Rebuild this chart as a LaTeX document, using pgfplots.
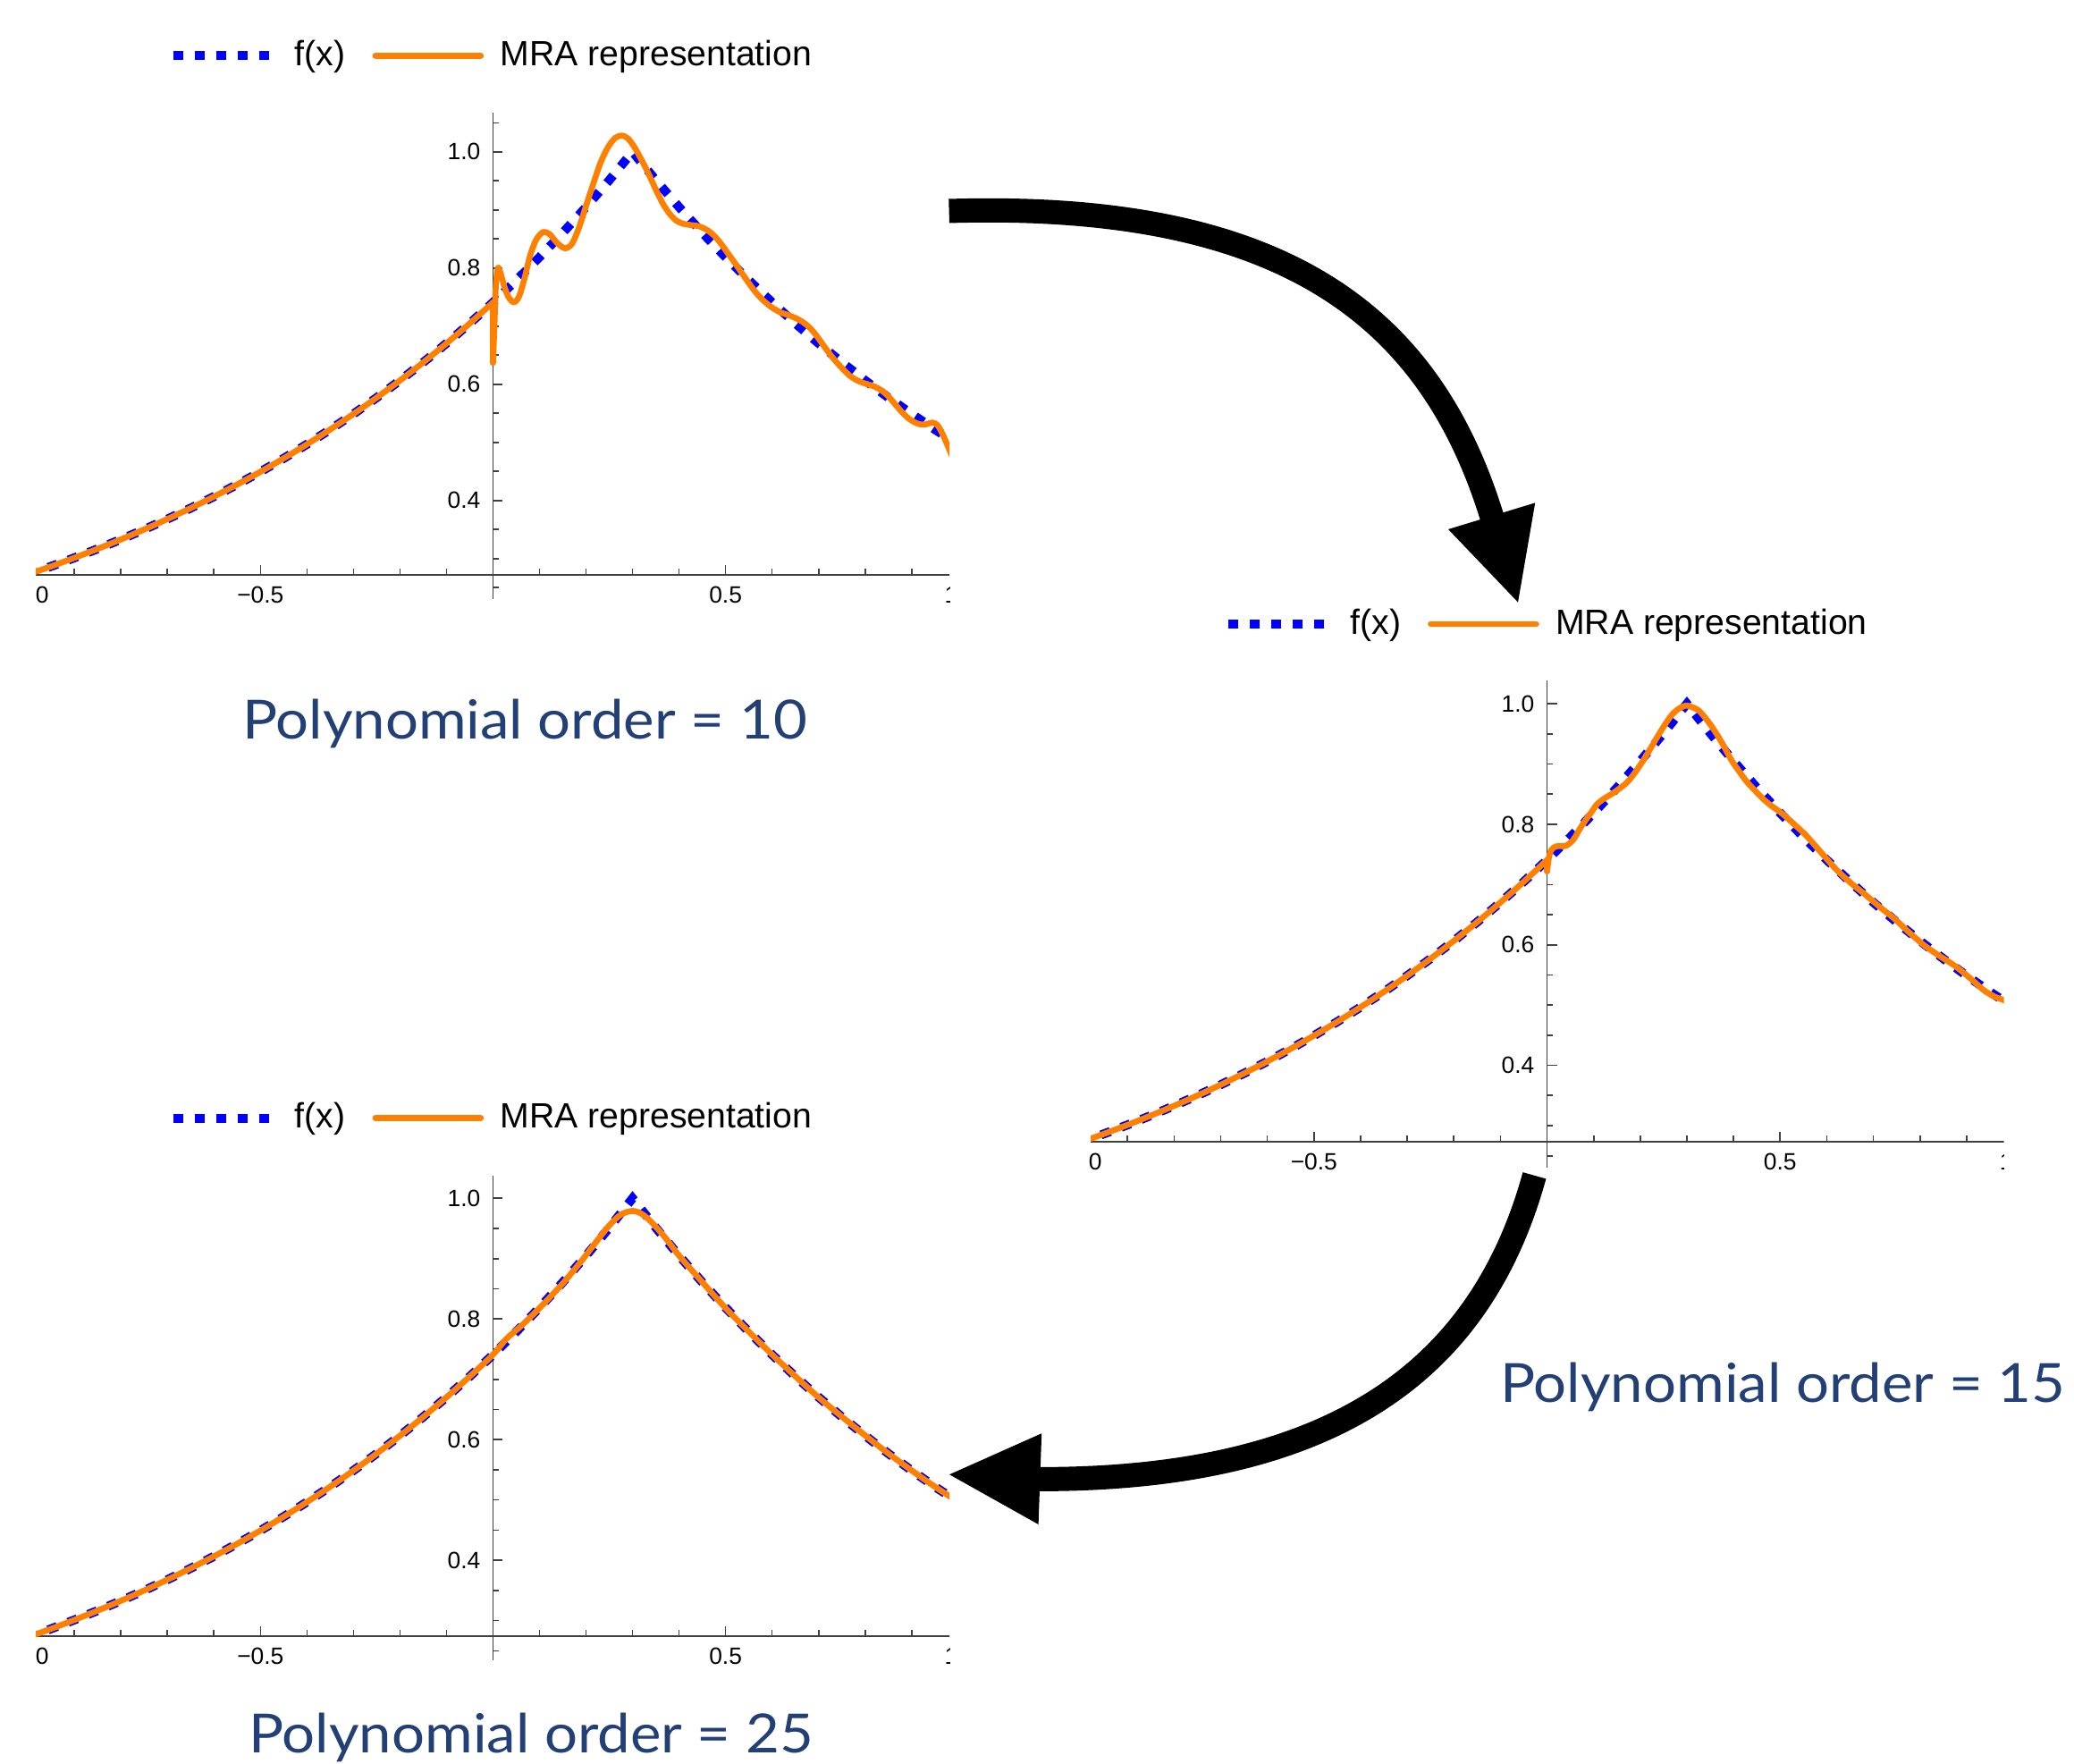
\documentclass[border=0pt]{standalone}
\usepackage{pgfplots}
\pgfplotsset{compat=1.18}
\usepackage{pgfplotstable}
\usepackage{fontspec}
\setmainfont{Liberation Sans}
\newfontfamily\titlefont[FakeStretch=1.08]{Lato}
\definecolor{fblue}{RGB}{0,0,255}
\definecolor{mraorange}{RGB}{255,128,0}
\definecolor{axisgray}{RGB}{64,64,64}
\definecolor{titleblue}{RGB}{34,63,118}

% f(x)
\pgfplotstableread{
x y
-1.00 0.27253
-0.95 0.28650
-0.90 0.30119
-0.85 0.31664
-0.80 0.33287
-0.75 0.34994
-0.70 0.36788
-0.65 0.38674
-0.60 0.40657
-0.55 0.42741
-0.50 0.44933
-0.45 0.47237
-0.40 0.49659
-0.35 0.52205
-0.30 0.54881
-0.25 0.57695
-0.20 0.60653
-0.15 0.63763
-0.10 0.67032
-0.05 0.70469
0.00 0.74082
0.05 0.77880
0.10 0.81873
0.15 0.86071
0.20 0.90484
0.25 0.95123
0.30 1.00000
0.35 0.95123
0.40 0.90484
0.45 0.86071
0.50 0.81873
0.55 0.77880
0.60 0.74082
0.65 0.70469
0.70 0.67032
0.75 0.63763
0.80 0.60653
0.85 0.57695
0.90 0.54881
0.95 0.52205
1.00 0.49659
}\fdata

% MRA on [-1,0] (all orders)
\pgfplotstableread{
x y
-1.00 0.27253
-0.95 0.28650
-0.90 0.30119
-0.85 0.31664
-0.80 0.33287
-0.75 0.34994
-0.70 0.36788
-0.65 0.38674
-0.60 0.40657
-0.55 0.42741
-0.50 0.44933
-0.45 0.47237
-0.40 0.49659
-0.35 0.52205
-0.30 0.54881
-0.25 0.57695
-0.20 0.60653
-0.15 0.63763
-0.10 0.67032
-0.05 0.70469
0.00 0.74082
}\mraleft

% order 10, [0,1]
\pgfplotstableread{
x y
0.000 0.637
0.003 0.700
0.006 0.768
0.0105 0.800
0.016 0.792
0.024 0.769
0.034 0.749
0.045 0.741
0.056 0.751
0.067 0.780
0.080 0.822
0.093 0.849
0.108 0.862
0.122 0.858
0.138 0.843
0.155 0.834
0.170 0.842
0.186 0.872
0.200 0.907
0.216 0.946
0.232 0.983
0.248 1.009
0.263 1.024
0.277 1.028
0.290 1.023
0.304 1.008
0.320 0.985
0.334 0.963
0.350 0.935
0.365 0.911
0.380 0.893
0.395 0.881
0.410 0.876
0.425 0.874
0.442 0.872
0.459 0.866
0.475 0.856
0.490 0.842
0.508 0.822
0.525 0.803
0.543 0.782
0.561 0.762
0.580 0.745
0.598 0.733
0.617 0.724
0.635 0.719
0.650 0.714
0.664 0.708
0.680 0.698
0.695 0.684
0.712 0.665
0.731 0.645
0.750 0.628
0.768 0.614
0.787 0.605
0.805 0.600
0.820 0.596
0.834 0.590
0.849 0.580
0.863 0.567
0.878 0.553
0.892 0.542
0.905 0.535
0.918 0.531
0.931 0.531
0.944 0.534
0.955 0.530
0.966 0.515
0.977 0.495
0.990 0.470
1.000 0.450
}\mraA

% order 15, [0,1]
\pgfplotstableread{
x y
0.000 0.722
0.004 0.745
0.009 0.757
0.018 0.763
0.030 0.764
0.040 0.764
0.056 0.774
0.070 0.792
0.082 0.806
0.095 0.820
0.107 0.833
0.121 0.842
0.136 0.849
0.153 0.858
0.171 0.869
0.187 0.884
0.203 0.902
0.219 0.922
0.235 0.943
0.251 0.963
0.267 0.981
0.283 0.992
0.299 0.997
0.312 0.994
0.325 0.989
0.341 0.975
0.357 0.958
0.376 0.934
0.395 0.907
0.411 0.889
0.427 0.872
0.446 0.856
0.465 0.841
0.484 0.829
0.504 0.818
0.530 0.800
0.555 0.782
0.587 0.754
0.619 0.726
0.651 0.703
0.683 0.683
0.715 0.662
0.747 0.642
0.779 0.619
0.811 0.598
0.843 0.581
0.875 0.565
0.907 0.545
0.938 0.524
0.960 0.514
0.980 0.508
1.000 0.500
}\mraB

% order 25, [-1,1]
\pgfplotstableread{
x y
-1.00 0.27253
-0.95 0.28650
-0.90 0.30119
-0.85 0.31664
-0.80 0.33287
-0.75 0.34994
-0.70 0.36788
-0.65 0.38674
-0.60 0.40657
-0.55 0.42741
-0.50 0.44933
-0.45 0.47237
-0.40 0.49659
-0.35 0.52205
-0.30 0.54881
-0.25 0.57695
-0.20 0.60653
-0.15 0.63763
-0.10 0.67032
-0.05 0.70469
0.00 0.74100
0.03 0.768
0.06 0.788
0.10 0.818
0.15 0.859
0.19 0.896
0.22 0.926
0.25 0.955
0.275 0.973
0.300 0.979
0.320 0.974
0.340 0.961
0.370 0.935
0.400 0.905
0.450 0.861
0.500 0.818
0.550 0.779
0.600 0.741
0.650 0.705
0.700 0.670
0.750 0.638
0.800 0.607
0.850 0.577
0.900 0.549
0.950 0.522
1.000 0.497
}\mraC

\pgfplotsset{
  mra/.style={
    scale only axis, anchor=south west,
    axis x line=bottom, axis y line=middle,
    axis line style={-, draw=axisgray, line width=0.4pt},
    tick style={draw=axisgray, line width=0.4pt},
    tick align=inside,
    major tick length=2.75pt, minor tick length=1.7pt,
    xtick={-0.5,0,0.5,1}, xticklabels={−0.5,,0.5,},
    minor xtick={-0.9,-0.8,-0.7,-0.6,-0.4,-0.3,-0.2,-0.1,0.1,0.2,0.3,0.4,0.6,0.7,0.8,0.9},
    extra x ticks={-0.969,0.985}, extra x tick labels={0,1},
    extra x tick style={major tick length=0pt},
    ytick={0.4,0.6,0.8,1.0}, yticklabels={0.4,0.6,0.8,1.0},
    minor ytick={0.3,0.35,0.45,0.5,0.55,0.65,0.7,0.75,0.85,0.9,0.95,1.05},
    tick label style={font=\fontsize{6.6}{7.9}\selectfont, text=black},
    xticklabel style={yshift=0.2pt},
    clip mode=individual,
    legend columns=-1,
    legend style={draw=none, fill=none, inner sep=0pt, outer sep=0pt, anchor=west,
      font=\fontsize{9.8}{11.8}\selectfont,
      nodes={inner sep=0pt},
      /tikz/column 1/.style={column sep=6.1pt},
      /tikz/column 2/.style={column sep=7.5pt},
      /tikz/column 3/.style={column sep=4.6pt}},
  },
  fstyle/.style={draw=fblue, line width=2.5pt, dash pattern=on 2.75pt off 3.25pt,
    line cap=butt, line join=miter,
    legend image code/.code={\draw[fblue, line width=2.5pt, dash pattern=on 2.75pt off 3.25pt] (0pt,0pt) -- (26.75pt,0pt);}},
  ostyle/.style={draw=mraorange, line width=1.65pt, line cap=round, line join=round,
    legend image code/.code={\draw[mraorange, line width=1.65pt] (0pt,0pt) -- (29.5pt,0pt);}},
}

\begin{document}
\begin{tikzpicture}
\useasboundingbox (0pt,0pt) rectangle (580pt,493pt);

% ---------- order 10 ----------
\begin{scope}
\clip (0pt,310pt) rectangle (265.5pt,493pt);
\begin{axis}[mra, at={(10pt,332.275pt)}, width=257.95pt, height=129.15pt,
  xmin=-0.983, xmax=1, ymin=0.272, ymax=1.067,
  legend style={at={(0.1440,1.1235)}}]
\addplot[fstyle] table {\fdata};
\addlegendentry{f(x)}
\addplot[ostyle, smooth] table {\mraA};
\addlegendentry{MRA representation}
\addplot[ostyle, smooth, forget plot] table {\mraleft};
\addplot[ostyle, forget plot] coordinates {(0,0.741) (0,0.637)};
\draw[axisgray, line width=0.4pt] (axis cs:0,0.272) -- (axis cs:0,0.231);
\draw[axisgray, line width=0.4pt] (axis cs:0,0.25) -- ++(1.7pt,0pt);
\end{axis}
\end{scope}

% ---------- order 15 ----------
\begin{scope}
\clip (300pt,150pt) rectangle (560.4pt,335pt);
\begin{axis}[mra, at={(305pt,173.7pt)}, width=258pt, height=129.1pt,
  xmin=-0.979, xmax=1, ymin=0.273, ymax=1.039,
  legend style={at={(0.1445,1.1218)}}]
\addplot[fstyle] table {\fdata};
\addlegendentry{f(x)}
\addplot[ostyle, smooth] table {\mraB};
\addlegendentry{MRA representation}
\addplot[ostyle, smooth, forget plot] table {\mraleft};
\addplot[ostyle, forget plot] coordinates {(0,0.741) (0,0.722)};
\draw[axisgray, line width=0.4pt] (axis cs:0,0.273) -- (axis cs:0,0.231);
\draw[axisgray, line width=0.4pt] (axis cs:0,0.25) -- ++(1.7pt,0pt);
\end{axis}
\end{scope}

% ---------- order 25 ----------
\begin{scope}
\clip (0pt,0pt) rectangle (265.5pt,200pt);
\begin{axis}[mra, at={(10pt,35.45pt)}, width=257.95pt, height=128.9pt,
  xmin=-0.983, xmax=1, ymin=0.274, ymax=1.038,
  legend style={at={(0.1440,1.1242)}}]
\addplot[fstyle] table {\fdata};
\addlegendentry{f(x)}
\addplot[ostyle, smooth] table {\mraC};
\addlegendentry{MRA representation}
\draw[axisgray, line width=0.4pt] (axis cs:0,0.274) -- (axis cs:0,0.234);
\draw[axisgray, line width=0.4pt] (axis cs:0,0.25) -- ++(1.7pt,0pt);
\end{axis}
\end{scope}

% ---------- titles ----------
\node[anchor=base west, inner sep=0pt, text=titleblue, font=\titlefont\fontsize{15.1}{18}\selectfont] at (67.6pt,286.3pt) {Polynomial order = 10};
\node[anchor=base west, inner sep=0pt, text=titleblue, font=\titlefont\fontsize{15.1}{18}\selectfont] at (419.4pt,100.9pt) {Polynomial order = 15};
\node[anchor=base west, inner sep=0pt, text=titleblue, font=\titlefont\fontsize{15.1}{18}\selectfont] at (69.4pt,2.8pt) {Polynomial order = 25};

% ---------- arrows ----------
\draw[black, line width=6.75pt, line cap=butt] (265.4pt,434pt) .. controls (360.4pt,436.85pt) and (400.4pt,403.7pt) .. (417.45pt,347.7pt);
\fill[black] (405pt,345pt) -- (429.3pt,352.4pt) -- (424.5pt,324.6pt) -- cycle;
\draw[black, line width=6.75pt, line cap=butt] (429.1pt,164.3pt) .. controls (413.2pt,106.5pt) and (368.75pt,79.3pt) .. (290.3pt,79.4pt);
\fill[black] (291.3pt,92.2pt) -- (290.4pt,66.75pt) -- (265.5pt,80.7pt) -- cycle;
\end{tikzpicture}
\end{document}
